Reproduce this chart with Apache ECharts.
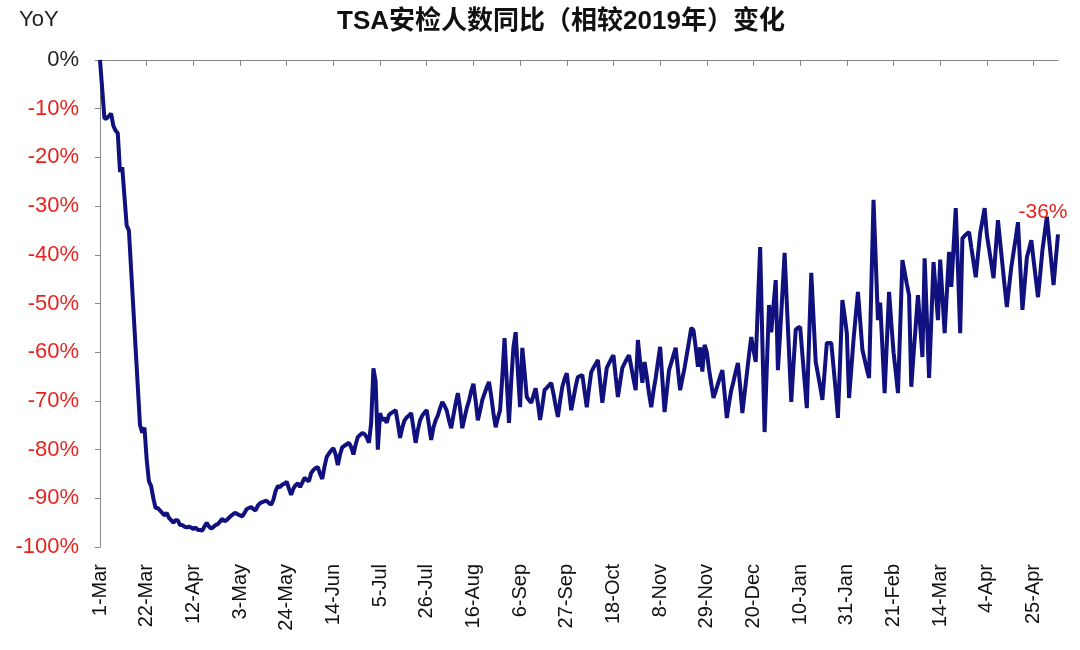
<!DOCTYPE html>
<html>
<head>
<meta charset="utf-8">
<script src="https://cdn.jsdelivr.net/npm/echarts@6/dist/echarts.min.js"></script>
<style>
html,body{margin:0;padding:0;background:#fff;}
#chart{width:1080px;height:650px;}
</style>
</head>
<body>
<div id="chart"></div>
<script>
// Daily TSA throughput YoY vs 2019 (%), starting 1-Mar-2020
const startDate = [2020, 3, 1];
const monthNames = ['Jan','Feb','Mar','Apr','May','Jun','Jul','Aug','Sep','Oct','Nov','Dec'];
const yoy = [
0,-6,-12,-12,-11.5,-11,-13.5,-14.5,-15,-23,-22,-28,-34,-35,-43,-51,-59,-67,-75,-76.5,
-75.5,-82,-86.5,-87.5,-90,-92,-92,-92.5,-93,-93.5,-93,-94,-94.5,-95,-94.5,-94.5,-95.5,-95.5,-95.8,-96,
-95.8,-96,-96.3,-96,-96.5,-96.5,-96.6,-95.8,-95,-95.8,-96.2,-95.9,-95.5,-95.3,-94.8,-94.2,-94.7,-94.5,-94,-93.6,
-93.2,-93,-93.3,-93.5,-93.7,-93,-92.2,-92,-91.8,-92.2,-92.5,-91.5,-91,-90.8,-90.6,-90.5,-91,-91.3,-90.3,-88.5,
-87.5,-87.7,-87.2,-87,-86.6,-88,-89.3,-88,-87.3,-86.9,-87.7,-86.8,-85.8,-86.2,-86.5,-84.8,-84.2,-83.8,-83.6,-85,
-86,-83.5,-81.5,-80.8,-80.2,-79.7,-81,-83.2,-81,-79.5,-79.2,-78.9,-78.6,-79.5,-81,-79,-77.4,-77,-76.6,-76.8,
-77.5,-78.6,-74.5,-63.3,-66,-80,-72.5,-74,-73.5,-74.5,-72.9,-72.5,-72.2,-71.9,-74.5,-77.6,-75.5,-74,-73.4,-73,
-72.5,-75.5,-78.6,-76,-74,-73,-72.4,-71.9,-75,-78,-75.5,-74,-73,-71.5,-70.2,-71,-72,-74,-75.6,-73,
-70.5,-68.4,-71.5,-75.6,-73.5,-71.5,-70,-68,-66.5,-70,-74,-72,-69.8,-68.5,-67.2,-66.1,-69,-72.5,-75.4,-73.5,
-71.9,-65,-57.1,-66,-74.5,-66,-59,-55.9,-64,-71.3,-59.1,-64,-69.2,-69.8,-70.4,-68.9,-67.4,-70.5,-73.9,-71,
-67.8,-67.3,-66.8,-66.3,-68.5,-71,-73.3,-70,-67.1,-65.5,-64.3,-68,-71.9,-69.5,-67,-65.1,-64.9,-64.7,-68,-71.3,
-67.5,-64.1,-63.2,-62.4,-61.6,-66,-70.4,-66.8,-63.2,-62.3,-61.4,-60.6,-65,-69.2,-66.2,-63.2,-62.3,-61.4,-60.6,-63,
-65.5,-67.8,-57.5,-62,-66.3,-62,-65,-68.5,-71.3,-68,-65.3,-62,-58.9,-65.5,-72.3,-68,-63.7,-62.2,-60.6,-59.1,
-63.5,-67.8,-65.5,-63.2,-60.5,-57.8,-55,-55.5,-59,-63,-59,-64,-58.5,-60,-63.5,-66.5,-69.4,-68,-66.5,-65,
-63.7,-68.5,-73.5,-70.5,-67.8,-66,-64,-62.2,-67,-72.5,-68.5,-64.5,-60.5,-56.9,-59.5,-62,-50,-38.4,-58,-76.4,
-63,-50.3,-55.9,-50.5,-45.2,-63.7,-56,-48,-39.6,-50,-60,-70.2,-62.5,-55.4,-55,-54.8,-60.5,-66,-71.5,-57.5,
-43.7,-53,-62,-64.5,-67,-69.8,-64,-58.1,-58.1,-58.1,-63,-68,-73.5,-61.5,-49.3,-52.5,-56.1,-69.4,-63.5,-57.5,
-52.5,-47.6,-53.5,-59.5,-61.5,-63.5,-65.3,-47,-28.7,-41,-53.4,-49.8,-59,-68.4,-58,-47.6,-54,-60,-64,-68.4,
-55,-41.1,-43.5,-46,-48.3,-67.1,-60.5,-54.5,-48.3,-54.5,-61,-40.7,-53,-65.3,-53.5,-41.5,-47.5,-53.4,-41,-48.5,
-56.1,-47.7,-39.4,-46.6,-38.5,-30.4,-43,-56.1,-36.6,-36.1,-35.7,-35.3,-38.5,-41.5,-44.6,-40,-35.5,-33,-30.4,-35.9,
-38.8,-41.8,-44.8,-38.8,-32.9,-37.5,-42,-46.5,-50.7,-46.5,-42.5,-39.5,-36.5,-33.3,-42.3,-51.3,-46,-40.5,-38.8,-37,
-41,-44.8,-48.7,-44,-39,-35.6,-32.2,-36.8,-41.5,-46.2,-41,-35.8
];
const yTicks = [0,-10,-20,-30,-40,-50,-60,-70,-80,-90,-100];

const categories = [];
{
  const d0 = Date.UTC(startDate[0], startDate[1]-1, startDate[2]);
  for (let i = 0; i < yoy.length; i++) {
    const d = new Date(d0 + i*86400000);
    categories.push(d.getUTCDate() + '-' + monthNames[d.getUTCMonth()]);
  }
}
const lastIdx = yoy.length - 1;
const FONT = 'Liberation Sans, Arial, "Noto Sans CJK SC", sans-serif';

const chart = echarts.init(document.getElementById('chart'));
chart.setOption({
  backgroundColor: '#fff',
  animation: false,
  title: {
    text: 'TSA安检人数同比（相较2019年）变化',
    left: 556, top: 4, textAlign: 'center',
    textStyle: {fontSize: 26, fontWeight: 'bold', color: '#111', fontFamily: FONT}
  },
  graphic: [{
    type: 'text', left: 19, top: 9,
    style: {text: 'YoY', fontSize: 22, fill: '#222', fontFamily: FONT}
  }],
  grid: {left: 100, right: 22, top: 60, bottom: 103, containLabel: false},
  xAxis: [{
    type: 'category', data: categories, boundaryGap: false, position: 'bottom',
    axisLine: {show: false}, axisTick: {show: false},
    axisLabel: {interval: 20, rotate: 90, margin: 17, fontSize: 20, color: '#111', fontFamily: FONT}
  }, {
    type: 'category', data: categories, boundaryGap: false, position: 'top',
    axisLine: {show: true, lineStyle: {color: '#888', width: 1}},
    axisTick: {show: true, inside: true, interval: 20, length: 6, lineStyle: {color: '#888'}},
    axisLabel: {show: false}
  }],
  yAxis: {
    type: 'value', min: -100, max: 0, interval: 10,
    axisLine: {show: true, lineStyle: {color: '#888', width: 1}},
    axisTick: {show: true, length: 5, lineStyle: {color: '#888'}},
    splitLine: {show: false},
    axisLabel: {
      margin: 21, fontSize: 22, fontFamily: FONT,
      formatter: v => v + '%',
      color: v => (Number(v) === 0 ? '#222' : '#E8231D')
    }
  },
  series: [{
    type: 'line', xAxisIndex: 0, data: yoy, showSymbol: false, symbol: 'none',
    lineStyle: {color: '#10107E', width: 4}, z: 3,
    markPoint: {
      symbol: 'circle', symbolSize: 0, silent: true,
      data: [{coord: [lastIdx, yoy[lastIdx]], value: yoy[lastIdx]}],
      label: {show: true, position: 'top', distance: 0, offset: [-15, -12],
        formatter: p => Number(p.value).toFixed(0) + '%',
        color: '#E8231D', fontSize: 21, fontFamily: FONT}
    }
  }]
});
</script>
</body>
</html>
